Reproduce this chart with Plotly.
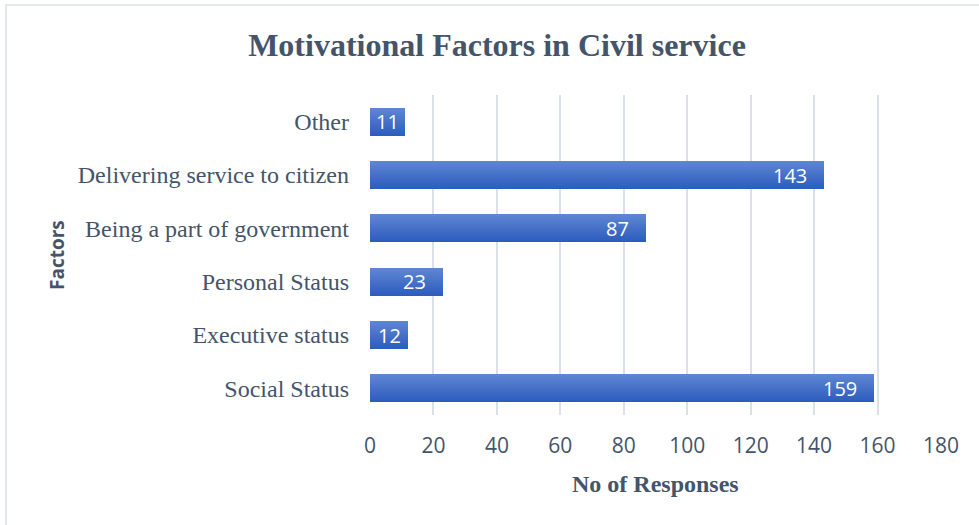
import plotly.graph_objects as go

# Survey data
factors = ["Social Status", "Executive status", "Personal Status",
           "Being a part of government", "Delivering service to citizen", "Other"]
responses = [159, 12, 23, 87, 143, 11]
x_ticks = [0, 20, 40, 60, 80, 100, 120, 140, 160, 180]

TEXT = "#44546A"
GRID = "#DCE0E8"
W, H = 979, 525
L, R, T, B = 370, 38, 95, 110

fig = go.Figure()

# Bars drawn as thin horizontal stripes to give a vertical light-to-dark gradient
bar_w = 0.52
n = 14
top = (94, 133, 210)
bot = (45, 93, 190)
for i in range(n):
    f = i / (n - 1)
    c = tuple(round(bot[k] + (top[k] - bot[k]) * f) for k in range(3))
    fig.add_trace(go.Bar(
        x=responses, y=factors, orientation="h",
        width=bar_w / n + 0.002, offset=-bar_w / 2 + i * bar_w / n,
        marker=dict(color="rgb(%d,%d,%d)" % c, line=dict(width=0)),
        hoverinfo="skip", showlegend=False,
    ))

# Value labels inside the bar ends
for f_name, v in zip(factors, responses):
    if v > 20:
        fig.add_annotation(x=v, y=f_name, text=str(v), xanchor="right", xshift=-15,
                           showarrow=False, font=dict(family="Open Sans", size=20, color="white"))
    else:
        fig.add_annotation(x=v / 2, y=f_name, text=str(v), xanchor="center",
                           showarrow=False, font=dict(family="Open Sans", size=20, color="white"))

pw = W - L - R
ph = H - T - B

# Chart frame
fig.add_shape(type="rect", xref="paper", yref="paper", layer="below",
              x0=(6 - L) / pw, x1=(W + 10 - L) / pw,
              y0=(H - B - (H + 10)) / ph, y1=(H - B - 5) / ph,
              line=dict(color=GRID, width=1.5), fillcolor="rgba(0,0,0,0)")

# Axis titles
fig.add_annotation(xref="paper", yref="paper", x=0.5, y=(H - B - 484) / ph,
                   xanchor="center", yanchor="middle",
                   text="<b>No of Responses</b>", showarrow=False,
                   font=dict(family="Liberation Serif", size=24, color=TEXT))
fig.add_annotation(xref="paper", yref="paper", x=(57 - L) / pw, y=0.5, textangle=-90,
                   xanchor="center", yanchor="middle",
                   text="<b>Factors</b>", showarrow=False,
                   font=dict(family="Open Sans", size=19, color=TEXT))

fig.update_layout(
    width=W, height=H,
    margin=dict(l=L, r=R, t=T, b=B),
    paper_bgcolor="white", plot_bgcolor="white",
    barmode="overlay", bargap=0,
    title=dict(text="<b>Motivational Factors in Civil service</b>",
               xref="container", x=497 / W, xanchor="center",
               yref="container", y=1 - 45 / H, yanchor="middle",
               font=dict(family="Liberation Serif", size=32, color=TEXT)),
    xaxis=dict(range=[0, 180], tickvals=x_ticks, showgrid=True, gridcolor=GRID, gridwidth=1.5,
               zeroline=False, showline=False, ticks="", ticklabelstandoff=16,
               tickfont=dict(family="Open Sans", size=21, color=TEXT), fixedrange=True),
    yaxis=dict(categoryorder="array", categoryarray=factors, showgrid=False, zeroline=False,
               showline=False, ticks="", ticklabelstandoff=20,
               tickfont=dict(family="Liberation Serif", size=24, color=TEXT), fixedrange=True),
)

fig.write_html("out.html")
